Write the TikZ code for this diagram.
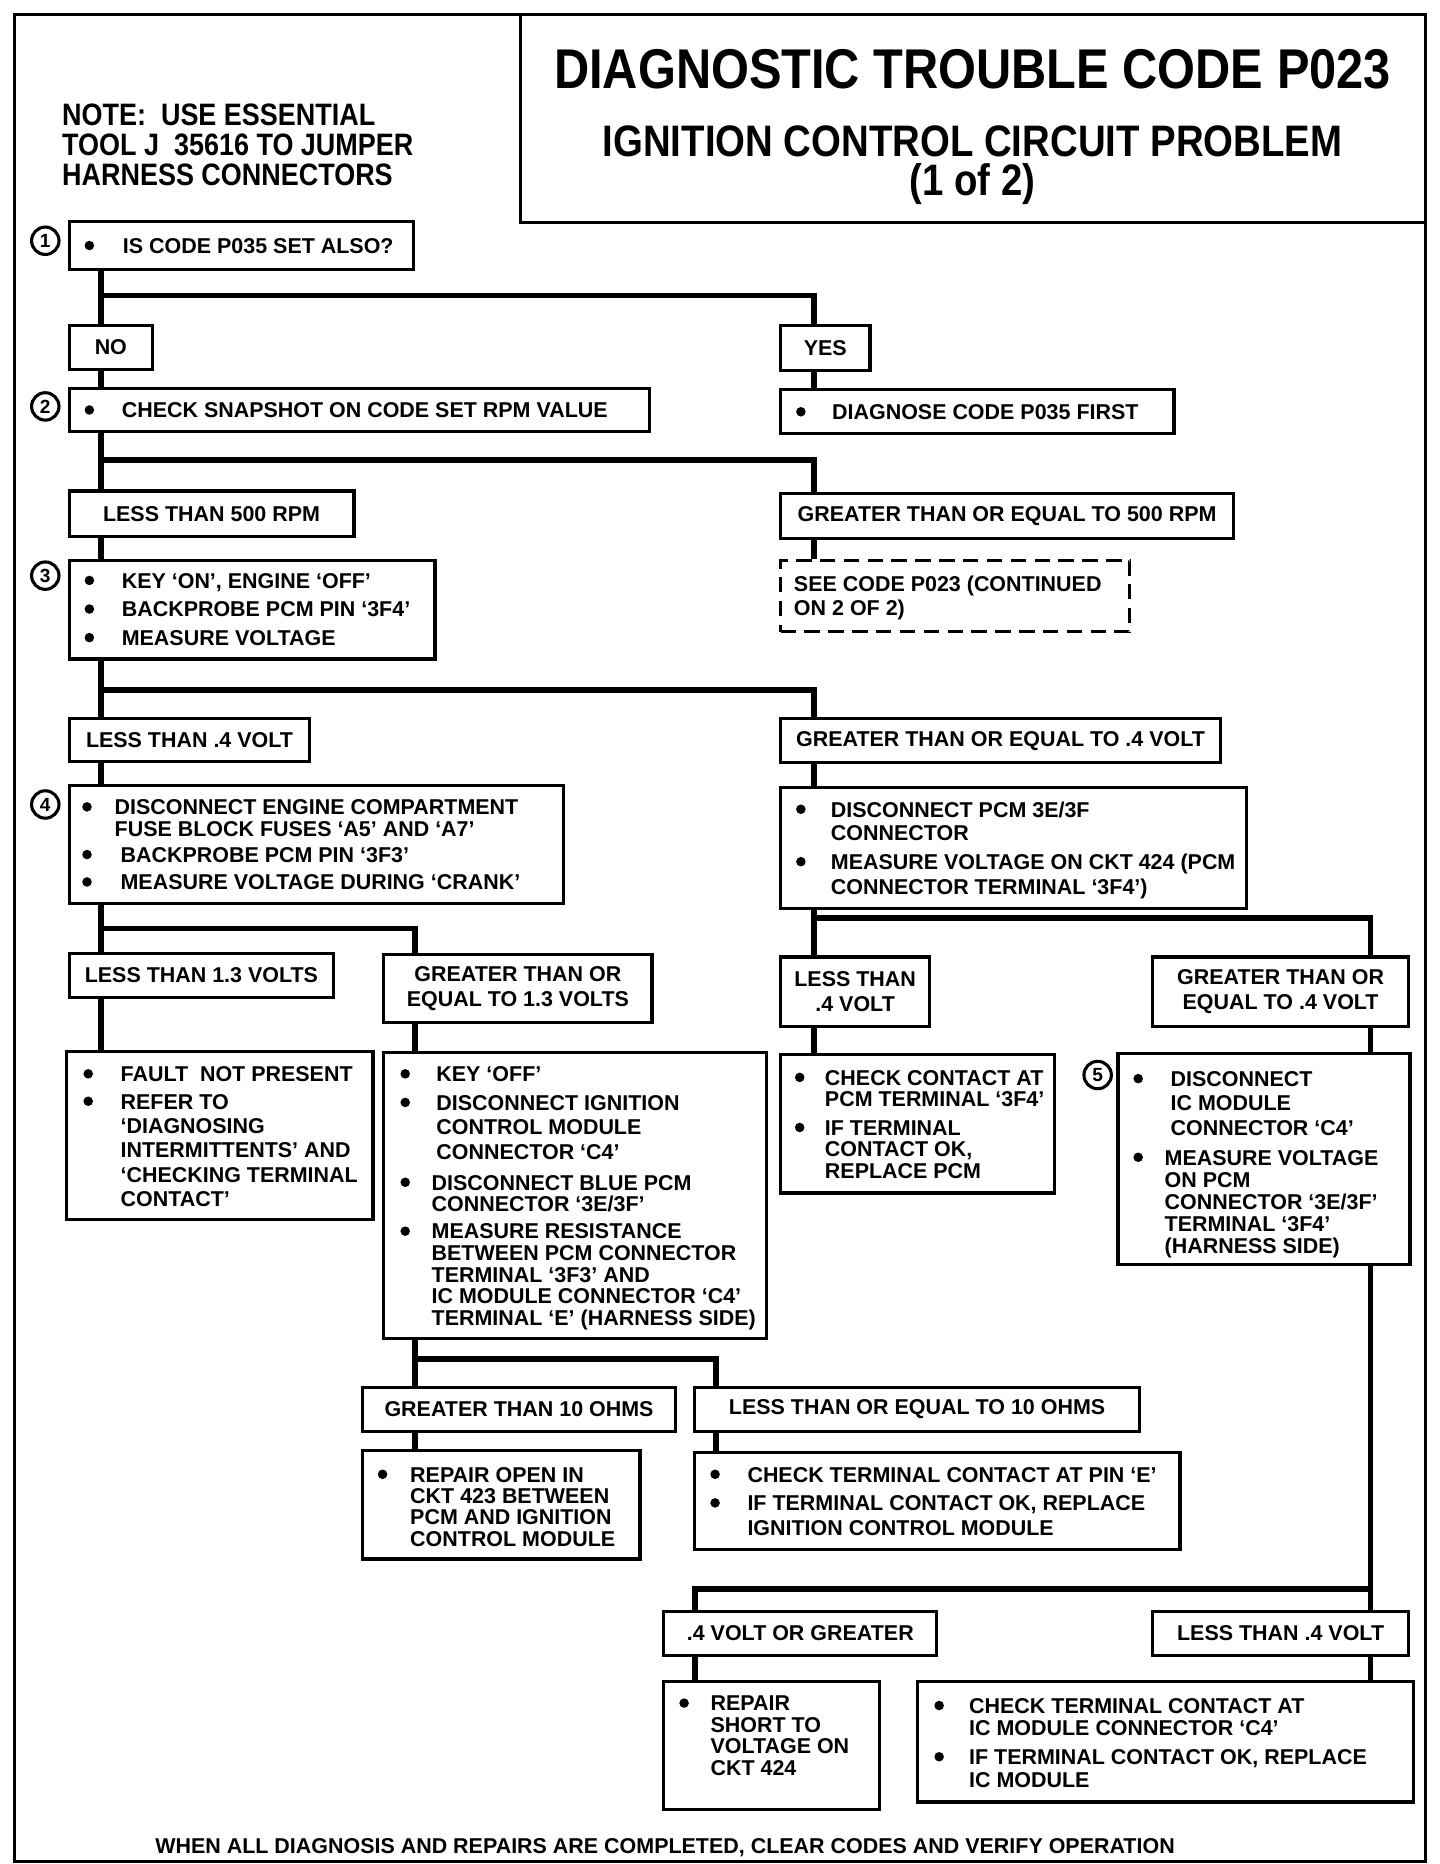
\documentclass[tikz,border=0pt]{standalone}
\usepackage{fontspec}
\setmainfont{Liberation Sans}
\newfontfamily\bodyf{Liberation Sans}
\newfontfamily\titlef[FakeStretch=0.87]{Liberation Sans}
\usetikzlibrary{fit}
\newcommand\ml[1]{\vtop{\halign{##\hfil\cr#1\crcr}}}
\newcommand\mc[1]{\vtop{\halign{\hfil##\hfil\cr#1\crcr}}}
\begin{document}
\begin{tikzpicture}[x=1pt,y=-1pt,
  box/.style={draw, line width=2.7pt, inner sep=0pt},
  conn/.style={line width=4.8pt},
  tx/.style={anchor=base west, inner sep=0pt, font=\bodyf\bfseries\fontsize{18}{#1}\selectfont},
  tx/.default=18.5,
  lbl/.style={inner sep=0pt, font=\bodyf\bfseries\fontsize{18}{21.5}\selectfont},
  bul/.style={circle, fill, inner sep=0pt, minimum size=8pt},
  num/.style={circle, draw, line width=2.6pt, inner sep=0pt, minimum size=23pt, font=\bodyf\bfseries\fontsize{16}{16}\selectfont}]
\useasboundingbox (0,0) rectangle (1208,1564);
% frame and title
\node[draw, line width=2.5pt, inner sep=0pt, fit={(12,12)(1196,1562)}] (frame) {};
\node[draw, line width=2.5pt, inner sep=0pt, fit={(437,12)(1196,187)}] (titlebox) {};
\node[anchor=base, inner sep=0pt, font=\titlef\bfseries\fontsize{47}{47}\selectfont] (title1) at (816,74) {DIAGNOSTIC TROUBLE CODE P023};
\node[anchor=base, inner sep=0pt, font=\titlef\bfseries\fontsize{37}{37}\selectfont] (title2) at (816,131) {IGNITION CONTROL CIRCUIT PROBLEM};
\node[anchor=base, inner sep=0pt, font=\titlef\bfseries\fontsize{37}{37}\selectfont] (title3) at (816,164) {(1 of 2)};
\node[anchor=base west, inner sep=0pt, font=\titlef\bfseries\fontsize{26}{25}\selectfont] (note) at (52,105.5) {\ml{NOTE:\ \ USE ESSENTIAL\cr TOOL J\ \ 35616 TO JUMPER\cr HARNESS CONNECTORS}};
% coordinates for connector columns and branch rows
\coordinate (L) at (85,0);
\coordinate (R) at (683,0);
\coordinate (M) at (348,0);
\coordinate (RR) at (1150,0);
\coordinate (Q) at (601,0);
\coordinate (P) at (583,0);
\coordinate (h1) at (0,248);
\coordinate (h2) at (0,386);
\coordinate (h3) at (0,579);
\coordinate (h4) at (0,779);
\coordinate (h5) at (0,770);
\coordinate (h6) at (0,1140);
\coordinate (h7) at (0,1333);
% step 1
\node[num] (n1) at (38,202) {1};
\node[box, fit={(58,186)(347,226)}] (b1) {};
\node[bul] (b1u) at (75,206) {};
\node[tx] (b1t) at (103,212.5) {IS CODE P035 SET ALSO?};
\node[box, fit={(58,273)(128,310)}] (no) {};
\node[lbl] (not) at (no.center) {NO};
\node[box, fit={(655,273)(730,311)}] (yes) {};
\node[lbl] (yest) at (yes.center) {YES};
% step 2
\node[num] (n2) at (38,341) {2};
\node[box, fit={(58,326)(545,362)}] (b2) {};
\node[bul] (b2u) at (75,344) {};
\node[tx] (b2t) at (102,350.5) {CHECK SNAPSHOT ON CODE SET RPM VALUE};
\node[box, fit={(655,327)(985,364)}] (p035) {};
\node[bul] (p035u) at (672,345.5) {};
\node[tx] (p035t) at (698,352) {DIAGNOSE CODE P035 FIRST};
\node[box, fit={(58,412)(297,450)}] (lt500) {};
\node[lbl] (lt500t) at (lt500.center) {LESS THAN 500 RPM};
\node[box, fit={(655,414)(1035,452)}] (ge500) {};
\node[lbl] (ge500t) at (ge500.center) {GREATER THAN OR EQUAL TO 500 RPM};
\node[box, dashed, dash pattern=on 13pt off 7pt, fit={(655,470)(948,530)}] (see) {};
\node[tx=20] (seet) at (666,496.5) {\ml{SEE CODE P023 (CONTINUED\cr ON 2 OF 2)}};
% step 3
\node[num] (n3) at (38,483) {3};
\node[box, fit={(58,470)(365,553)}] (b3) {};
\node[bul] (b3u1) at (75,487) {};
\node[bul] (b3u2) at (75,511) {};
\node[bul] (b3u3) at (75,535) {};
\node[tx] (b3t1) at (102,493.5) {KEY ‘ON’, ENGINE ‘OFF’};
\node[tx] (b3t2) at (102,517.5) {BACKPROBE PCM PIN ‘3F4’};
\node[tx] (b3t3) at (102,541.5) {MEASURE VOLTAGE};
\node[box, fit={(58,603)(260,639)}] (lt4) {};
\node[lbl] (lt4t) at (lt4.center) {LESS THAN .4 VOLT};
\node[box, fit={(655,603)(1024,640)}] (ge4) {};
\node[lbl] (ge4t) at (ge4.center) {GREATER THAN OR EQUAL TO .4 VOLT};
% step 4
\node[num] (n4) at (38,675) {4};
\node[box, fit={(58,659)(473,758)}] (b4) {};
\node[bul] (b4u1) at (73,677) {};
\node[bul] (b4u2) at (73,717) {};
\node[bul] (b4u3) at (73,740) {};
\node[tx=18] (b4t1) at (96,683.5) {\ml{DISCONNECT ENGINE COMPARTMENT\cr FUSE BLOCK FUSES ‘A5’ AND ‘A7’}};
\node[tx] (b4t2) at (101,723.5) {BACKPROBE PCM PIN ‘3F3’};
\node[tx] (b4t3) at (101,746.5) {MEASURE VOLTAGE DURING ‘CRANK’};
\node[box, fit={(655,661)(1046,762)}] (pcm) {};
\node[bul] (pcmu1) at (672,679) {};
\node[bul] (pcmu2) at (672,723) {};
\node[tx=20] (pcmt1) at (697,685.5) {\ml{DISCONNECT PCM 3E/3F\cr CONNECTOR}};
\node[tx=21] (pcmt2) at (697,729.5) {\ml{MEASURE VOLTAGE ON CKT 424 (PCM\cr CONNECTOR TERMINAL ‘3F4’)}};
\node[box, fit={(58,800)(280,837)}] (lt13) {};
\node[lbl] (lt13t) at (lt13.center) {LESS THAN 1.3 VOLTS};
\node[box, fit={(322,801)(547,858)}] (ge13) {};
\node[lbl] (ge13t) at (ge13.center) {\mc{GREATER THAN OR\cr EQUAL TO 1.3 VOLTS}};
\node[box, fit={(655,803)(780,861)}] (lt4b) {};
\node[lbl] (lt4bt) at (lt4b.center) {\mc{LESS THAN\cr .4 VOLT}};
\node[box, fit={(967,803)(1182,861)}] (ge4b) {};
\node[lbl] (ge4bt) at (ge4b.center) {\mc{GREATER THAN OR\cr EQUAL TO .4 VOLT}};
% result boxes row
\node[box, fit={(56,882)(313,1023)}] (fault) {};
\node[bul] (faultu1) at (74,901) {};
\node[bul] (faultu2) at (74,924) {};
\node[tx] (faultt1) at (101,907.5) {FAULT\ \ NOT PRESENT};
\node[tx=20.5] (faultt2) at (101,930.5) {\ml{REFER TO\cr ‘DIAGNOSING\cr INTERMITTENTS’ AND\cr ‘CHECKING TERMINAL\cr CONTACT’}};
\node[box, fit={(322,883)(643,1123)}] (big) {};
\node[bul] (bigu1) at (340,901) {};
\node[bul] (bigu2) at (340,925) {};
\node[bul] (bigu3) at (340,992) {};
\node[bul] (bigu4) at (340,1033) {};
\node[tx] (bigt1) at (366,907.5) {KEY ‘OFF’};
\node[tx=20.5] (bigt2) at (366,931.5) {\ml{DISCONNECT IGNITION\cr CONTROL MODULE\cr CONNECTOR ‘C4’}};
\node[tx=18] (bigt3) at (362,998.5) {\ml{DISCONNECT BLUE PCM\cr CONNECTOR ‘3E/3F’}};
\node[tx=18.2] (bigt4) at (362,1039.5) {\ml{MEASURE RESISTANCE\cr BETWEEN PCM CONNECTOR\cr TERMINAL ‘3F3’ AND\cr IC MODULE CONNECTOR ‘C4’\cr TERMINAL ‘E’ (HARNESS SIDE)}};
\node[box, fit={(655,885)(885,1001)}] (chk) {};
\node[bul] (chku1) at (671,904) {};
\node[bul] (chku2) at (671,946) {};
\node[tx=18] (chkt1) at (692,910.5) {\ml{CHECK CONTACT AT\cr PCM TERMINAL ‘3F4’}};
\node[tx=18] (chkt2) at (692,952.5) {\ml{IF TERMINAL\cr CONTACT OK,\cr REPLACE PCM}};
% step 5
\node[num] (n5) at (921,902) {5};
\node[box, fit={(938,884)(1183,1061)}] (b5) {};
\node[bul] (b5u1) at (955,905) {};
\node[bul] (b5u2) at (955,971) {};
\node[tx=20.5] (b5t1) at (982,911.5) {\ml{DISCONNECT\cr IC MODULE\cr CONNECTOR ‘C4’}};
\node[tx=18.5] (b5t2) at (977,977.5) {\ml{MEASURE VOLTAGE\cr ON PCM\cr CONNECTOR ‘3E/3F’\cr TERMINAL ‘3F4’\cr (HARNESS SIDE)}};
% resistance branch
\node[box, fit={(304,1164)(567,1201)}] (gt10) {};
\node[lbl] (gt10t) at (gt10.center) {GREATER THAN 10 OHMS};
\node[box, fit={(583,1164)(956,1201)}] (le10) {};
\node[lbl] (le10t) at (le10.center) {LESS THAN OR EQUAL TO 10 OHMS};
\node[box, fit={(304,1217)(537,1308)}] (rep) {};
\node[bul] (repu) at (321,1237) {};
\node[tx=18] (rept) at (344,1243.5) {\ml{REPAIR OPEN IN\cr CKT 423 BETWEEN\cr PCM AND IGNITION\cr CONTROL MODULE}};
\node[box, fit={(583,1219)(990,1300)}] (pinE) {};
\node[bul] (pinEu1) at (600,1237) {};
\node[bul] (pinEu2) at (600,1261) {};
\node[tx] (pinEt1) at (627,1243.5) {CHECK TERMINAL CONTACT AT PIN ‘E’};
\node[tx=21] (pinEt2) at (627,1267.5) {\ml{IF TERMINAL CONTACT OK, REPLACE\cr IGNITION CONTROL MODULE}};
% voltage branch
\node[box, fit={(557,1352)(786,1389)}] (ge4c) {};
\node[lbl] (ge4ct) at (ge4c.center) {.4 VOLT OR GREATER};
\node[box, fit={(967,1352)(1182,1389)}] (lt4c) {};
\node[lbl] (lt4ct) at (lt4c.center) {LESS THAN .4 VOLT};
\node[box, fit={(557,1411)(738,1518)}] (short) {};
\node[bul] (shortu) at (574,1429) {};
\node[tx=18] (shortt) at (596,1435.5) {\ml{REPAIR\cr SHORT TO\cr VOLTAGE ON\cr CKT 424}};
\node[box, fit={(770,1411)(1186,1512)}] (icm) {};
\node[bul] (icmu1) at (788,1431) {};
\node[bul] (icmu2) at (788,1474) {};
\node[tx=19] (icmt1) at (813,1437.5) {\ml{CHECK TERMINAL CONTACT AT\cr IC MODULE CONNECTOR ‘C4’}};
\node[tx=19] (icmt2) at (813,1480.5) {\ml{IF TERMINAL CONTACT OK, REPLACE\cr IC MODULE}};
% footer
\node[anchor=base, inner sep=0pt, font=\bodyf\bfseries\fontsize{18}{18}\selectfont] (foot) at (558,1555) {WHEN ALL DIAGNOSIS AND REPAIRS ARE COMPLETED, CLEAR CODES AND VERIFY OPERATION};
% connectors
\draw[conn] (b1.south -| L) -- (no.north -| L);
\draw[conn] (L |- h1) -| (yes.north -| R);
\draw[conn] (no.south -| L) -- (b2.north -| L);
\draw[conn] (yes.south -| R) -- (p035.north -| R);
\draw[conn] (b2.south -| L) -- (lt500.north -| L);
\draw[conn] (L |- h2) -| (ge500.north -| R);
\draw[conn] (lt500.south -| L) -- (b3.north -| L);
\draw[conn] (ge500.south -| R) -- (see.north -| R);
\draw[conn] (b3.south -| L) -- (lt4.north -| L);
\draw[conn] (L |- h3) -| (ge4.north -| R);
\draw[conn] (lt4.south -| L) -- (b4.north -| L);
\draw[conn] (ge4.south -| R) -- (pcm.north -| R);
\draw[conn] (b4.south -| L) -- (lt13.north -| L);
\draw[conn] (L |- h4) -| (ge13.north -| M);
\draw[conn] (pcm.south -| R) -- (lt4b.north -| R);
\draw[conn] (R |- h5) -| (ge4b.north -| RR);
\draw[conn] (lt13.south -| L) -- (fault.north -| L);
\draw[conn] (ge13.south -| M) -- (big.north -| M);
\draw[conn] (lt4b.south -| R) -- (chk.north -| R);
\draw[conn] (ge4b.south -| RR) -- (b5.north -| RR);
\draw[conn] (big.south -| M) -- (gt10.north -| M);
\draw[conn] (M |- h6) -| (le10.north -| Q);
\draw[conn] (gt10.south -| M) -- (rep.north -| M);
\draw[conn] (le10.south -| Q) -- (pinE.north -| Q);
\draw[conn] (b5.south -| RR) -- (lt4c.north -| RR);
\draw[conn] (RR |- h7) -| (ge4c.north -| P);
\draw[conn] (ge4c.south -| P) -- (short.north -| P);
\draw[conn] (lt4c.south -| RR) -- (icm.north -| RR);
\end{tikzpicture}
\end{document}
